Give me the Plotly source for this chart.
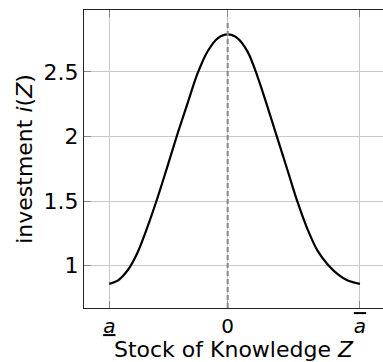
import plotly.graph_objects as go

# Data
z_vals = [-0.895, -0.8314, -0.7559, -0.6803, -0.6047, -0.5291, -0.4535, -0.3779,
          -0.3023, -0.2268, -0.1512, -0.0756, 0.0,
          0.0756, 0.1512, 0.2268, 0.3023, 0.3779, 0.4535, 0.5291, 0.6047,
          0.6803, 0.7559, 0.8314, 0.9070, 1.0]
inv_vals = [0.86, 0.885, 0.965, 1.105, 1.305, 1.53, 1.775, 2.025,
            2.26, 2.49, 2.66, 2.76, 2.79,
            2.76, 2.655, 2.46, 2.225, 1.98, 1.735, 1.49, 1.28,
            1.115, 1.01, 0.935, 0.885, 0.86]

x_tick_vals = [-0.895, 0.0, 1.0]
x_tick_text = ["<u><i>a</i></u>", "0", "<span style=\"text-decoration:overline\"><i>a</i></span>"]
y_tick_vals = [1, 1.5, 2, 2.5]
y_tick_text = ["1", "1.5", "2", "2.5"]

FONT = "DejaVu Sans"

fig = go.Figure()
fig.add_trace(go.Scatter(x=z_vals, y=inv_vals, mode="lines",
                         line=dict(color="black", width=2.2, shape="spline", smoothing=1.0),
                         hoverinfo="skip", showlegend=False))

fig.add_shape(type="line", xref="x", yref="paper", x0=0, x1=0, y0=0, y1=0.967,
              line=dict(color="#888888", width=2, dash="5px,3px"))

fig.update_layout(
    width=383, height=362,
    margin=dict(l=84, r=0, t=10, b=52),
    paper_bgcolor="white", plot_bgcolor="white",
    font=dict(family=FONT, size=22, color="black"),
    showlegend=False,
)
fig.update_xaxes(
    range=[-1.086, 1.174],
    tickvals=x_tick_vals, ticktext=x_tick_text,
    tickfont=dict(size=20),
    showgrid=True, gridcolor="#c8c8c8", gridwidth=1,
    showline=True, linecolor="#222222", linewidth=1.2, mirror="ticks",
    ticks="inside", ticklen=7, tickcolor="#888888",
    zeroline=False,
    title=dict(text="Stock of Knowledge <i>Z</i>", standoff=9, font=dict(size=22)),
)
fig.update_yaxes(
    range=[0.673, 2.979],
    tickvals=y_tick_vals, ticktext=y_tick_text,
    showgrid=True, gridcolor="#c8c8c8", gridwidth=1,
    showline=True, linecolor="#222222", linewidth=1.2, mirror=False,
    ticks="inside", ticklen=7, tickcolor="#888888",
    zeroline=False,
    title=dict(text="investment <i>i</i>(<i>Z</i>)", standoff=4, font=dict(size=22)),
)

fig.write_html("out.html")
